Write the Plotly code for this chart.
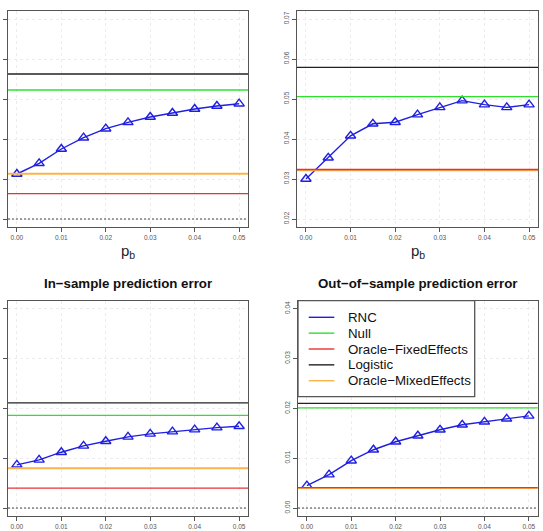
import plotly.graph_objects as go

W, H = 543, 531

# ---------------- data ----------------
pb = [0.000, 0.005, 0.010, 0.015, 0.020, 0.025, 0.030, 0.035, 0.040, 0.045, 0.050]

# top-left panel
rnc_a = [0.01125, 0.01392, 0.0175, 0.02033, 0.02258, 0.02417, 0.0255, 0.0265, 0.0275, 0.02825, 0.02883]
null_a, fixed_a, logistic_a, mixed_a = 0.03225, 0.00633, 0.03625, 0.01133

# top-right panel
rnc_b = [0.0300, 0.0353, 0.0408, 0.0438, 0.0442, 0.0461, 0.0479, 0.0496, 0.0486, 0.0479, 0.0486]
null_b, fixed_b, logistic_b, mixed_b = 0.0506, 0.03237, 0.0579, 0.03218

# bottom-left panel: In-sample prediction error
rnc_c = [0.00867, 0.00967, 0.0112, 0.01247, 0.0134, 0.01427, 0.01487, 0.01533, 0.01573, 0.01613, 0.0164]
null_c, fixed_c, logistic_c, mixed_c = 0.0186, 0.0040, 0.0211, 0.0080

# bottom-right panel: Out-of-sample prediction error
rnc_d = [0.0045, 0.0067, 0.0095, 0.0117, 0.0133, 0.0145, 0.0157, 0.0167, 0.0173, 0.0179, 0.0185]
null_d, fixed_d, logistic_d, mixed_d = 0.0201, 0.0041, 0.0210, 0.0040

x_ticks = [0.00, 0.01, 0.02, 0.03, 0.04, 0.05]
y_ticks_a = [0.00, 0.01, 0.02, 0.03, 0.04, 0.05]
y_ticks_b = [0.02, 0.03, 0.04, 0.05, 0.06, 0.07]
y_ticks_cd = [0.00, 0.01, 0.02, 0.03, 0.04]

titles = [None, None, "In\u2212sample prediction error", "Out\u2212of\u2212sample prediction error"]
legend_names = ["RNC", "Null", "Oracle\u2212FixedEffects", "Logistic", "Oracle\u2212MixedEffects"]
baseline = 0.0

# ---------------- styles ----------------
C_RNC = "#1f1fe0"
C_NULL = "#2fe02f"
C_FIXED = "#e83232"
C_LOG = "#222222"
C_MIXED = "#fbb34a"
legend_colors = [C_RNC, C_NULL, C_FIXED, C_LOG, C_MIXED]
FRAME = "#555555"
FONT = "Liberation Sans"

def fx(p):
    return p / W

def fy(p):
    return 1 - p / H

panels = [
    dict(box=(8, 248, 11, 227), yr=(-0.002, 0.052), yt=y_ticks_a, ylab=False,
         rnc=rnc_a, lines=(null_a, fixed_a, logistic_a, mixed_a), xlabel=True),
    dict(box=(297, 538, 11, 227), yr=(0.018, 0.072), yt=y_ticks_b, ylab=True,
         rnc=rnc_b, lines=(null_b, fixed_b, logistic_b, mixed_b), xlabel=True),
    dict(box=(8, 248, 300.7, 516), yr=(-0.0016, 0.0416), yt=y_ticks_cd, ylab=False,
         rnc=rnc_c, lines=(null_c, fixed_c, logistic_c, mixed_c), xlabel=False),
    dict(box=(298, 537.7, 300.7, 516), yr=(-0.0016, 0.0416), yt=y_ticks_cd, ylab=True,
         rnc=rnc_d, lines=(null_d, fixed_d, logistic_d, mixed_d), xlabel=False),
]

fig = go.Figure()
shapes = []
annotations = []
layout_axes = {}

for i, p in enumerate(panels):
    n = i + 1
    xs = "" if n == 1 else str(n)
    x0, x1, y0, y1 = p["box"]
    axis_common = dict(
        showline=True, mirror=True, linecolor=FRAME, linewidth=1.3,
        ticks="outside", ticklen=4, tickwidth=1, tickcolor=FRAME,
        showgrid=True, gridcolor="#ececec", griddash="dot", gridwidth=1,
        zeroline=False, tickfont=dict(family=FONT, size=6.5, color="#555555"),
        fixedrange=True,
    )
    layout_axes["xaxis" + xs] = dict(
        axis_common, domain=[fx(x0), fx(x1)], range=[-0.002, 0.052],
        tickvals=x_ticks, tickformat=".2f", anchor="y" + xs,
    )
    layout_axes["yaxis" + xs] = dict(
        axis_common, domain=[fy(y1), fy(y0)], range=list(p["yr"]),
        tickvals=p["yt"], tickformat=".2f", tickangle=-90,
        showticklabels=p["ylab"], anchor="x" + xs,
    )

    fig.add_trace(go.Scatter(
        x=pb, y=p["rnc"], mode="lines+markers", xaxis="x" + xs, yaxis="y" + xs,
        line=dict(color=C_RNC, width=1.4),
        marker=dict(symbol="triangle-up-open", size=9, color=C_RNC, line=dict(width=1.4)),
        showlegend=False, cliponaxis=False,
    ))

    nul, fix, lg, mix = p["lines"]
    yr0, yr1 = p["yr"]
    for val, col, wd, dash in [(mix, C_MIXED, 2.0, "solid"), (fix, C_FIXED, 1.3, "solid"),
                               (nul, C_NULL, 1.3, "solid"), (lg, C_LOG, 1.3, "solid"),
                               (baseline, "#444444", 1.0, "2px,2px")]:
        if yr0 <= val <= yr1:
            shapes.append(dict(type="line", xref="x" + xs + " domain", yref="y" + xs,
                               x0=0, x1=1, y0=val, y1=val,
                               line=dict(color=col, width=wd, dash=dash), layer="above"))

    if titles[i]:
        annotations.append(dict(text="<b>" + titles[i] + "</b>", xref="paper", yref="paper",
                                x=fx((x0 + x1) / 2), y=fy(283.7), xanchor="center", yanchor="middle",
                                showarrow=False, font=dict(family=FONT, size=13.3, color="#111111")))
    if p["xlabel"]:
        annotations.append(dict(text="p<sub>b</sub>", xref="paper", yref="paper",
                                x=fx((x0 + x1) / 2), y=fy(251), xanchor="center", yanchor="middle",
                                showarrow=False, font=dict(family=FONT, size=15, color="#222222")))

# legend (drawn in the bottom-right panel like R's legend box)
lx0, lx1, ly0, ly1 = 298, 474.7, 300.7, 396.7
shapes.append(dict(type="rect", xref="paper", yref="paper",
                   x0=fx(lx0), x1=fx(lx1), y0=fy(ly1), y1=fy(ly0),
                   fillcolor="white", line=dict(color=FRAME, width=1.3), layer="above"))
for k, (name, col) in enumerate(zip(legend_names, legend_colors)):
    yy = 317.3 + k * 15.85
    shapes.append(dict(type="line", xref="paper", yref="paper",
                       x0=fx(308.7), x1=fx(334.3), y0=fy(yy), y1=fy(yy),
                       line=dict(color=col, width=1.4), layer="above"))
    annotations.append(dict(text=name, xref="paper", yref="paper", x=fx(346), y=fy(yy),
                            xanchor="left", yanchor="middle", showarrow=False,
                            font=dict(family=FONT, size=13.3, color="#111111")))

fig.update_layout(
    width=W, height=H, margin=dict(l=0, r=0, t=0, b=0),
    paper_bgcolor="white", plot_bgcolor="white",
    shapes=shapes, annotations=annotations, showlegend=False,
    **layout_axes,
)

fig.write_html("out.html", config={"displayModeBar": False})
